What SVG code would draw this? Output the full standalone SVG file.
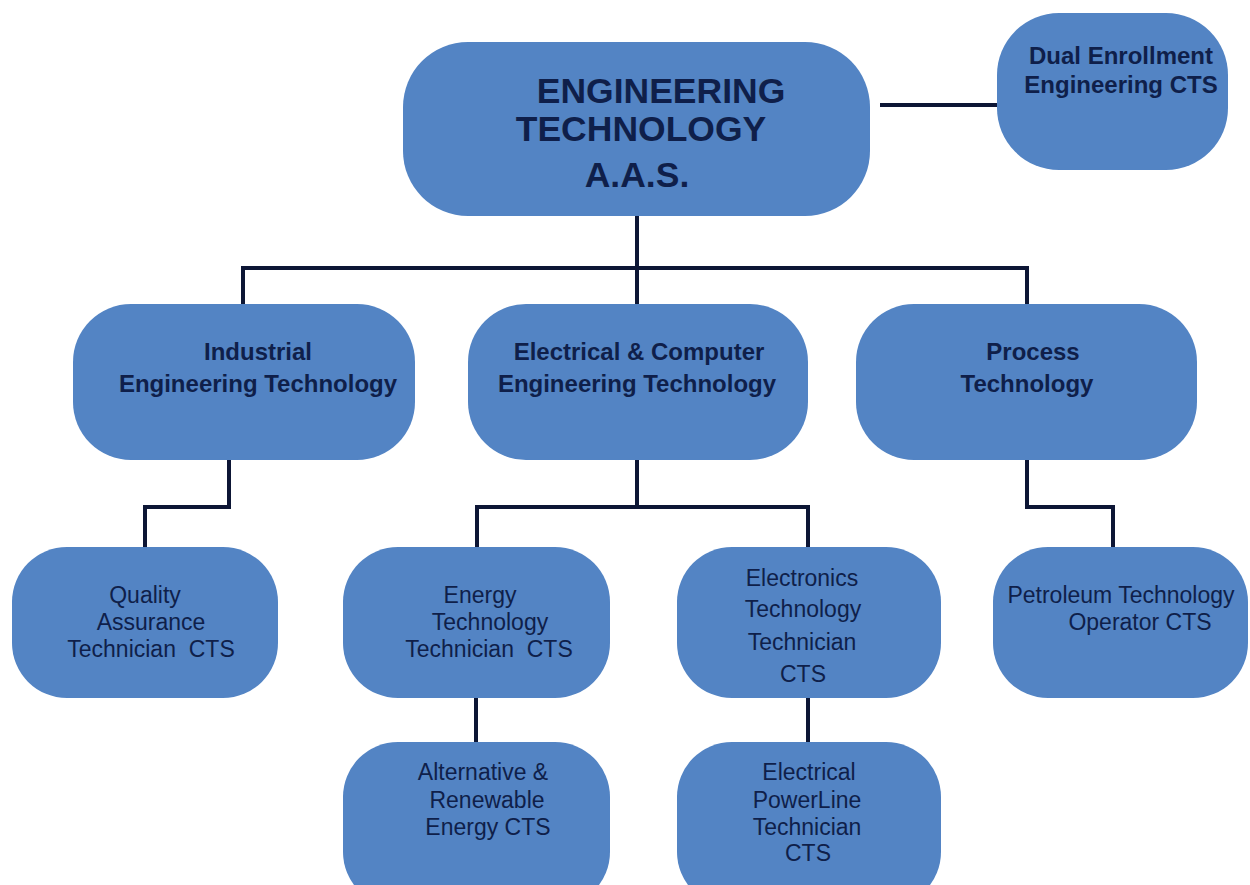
<svg xmlns="http://www.w3.org/2000/svg" width="1250" height="885" viewBox="0 0 1250 885">
<style>
.box{fill:#5384c4;}
.t{font-family:"Liberation Sans",Arial,sans-serif;fill:#0f1f4a;text-anchor:middle;}
.b{font-weight:bold;}
.big{font-size:35.5px;}
.mid{font-size:24px;}
.sm{font-size:23px;}
.c{fill:none;stroke:#0d1635;stroke-width:4;}
</style>
<rect width="1250" height="885" fill="#ffffff"/>
<g id="connectors">
<path class="c" d="M880 105 H997"/>
<path class="c" d="M637 216 V268 M243 268 H1027 M243 266 V304 M637 268 V304 M1027 266 V304"/>
<path class="c" d="M229 460 V507 H145 V547"/>
<path class="c" d="M637 460 V507 M477 507 H808 M477 505 V547 M808 505 V547"/>
<path class="c" d="M1027 460 V507 H1113 V547"/>
<path class="c" d="M476 698 V742"/>
<path class="c" d="M808 698 V742"/>
</g>
<g id="main">
<rect class="box" x="403" y="42" width="467" height="174" rx="65"/>
<text class="t b big" x="661" y="103">ENGINEERING</text>
<text class="t b big" x="641" y="141">TECHNOLOGY</text>
<text class="t b big" x="637" y="187">A.A.S.</text>
</g>
<g id="dual">
<rect class="box" x="997" y="13" width="231" height="157" rx="62"/>
<text class="t b mid" x="1121" y="64">Dual Enrollment</text>
<text class="t b mid" x="1121" y="93">Engineering CTS</text>
</g>
<g id="industrial">
<rect class="box" x="73" y="304" width="342" height="156" rx="58"/>
<text class="t b mid" x="258" y="360">Industrial</text>
<text class="t b mid" x="258" y="392">Engineering Technology</text>
</g>
<g id="electrical">
<rect class="box" x="468" y="304" width="340" height="156" rx="58"/>
<text class="t b mid" x="639" y="360">Electrical &amp; Computer</text>
<text class="t b mid" x="637" y="392">Engineering Technology</text>
</g>
<g id="process">
<rect class="box" x="856" y="304" width="341" height="156" rx="58"/>
<text class="t b mid" x="1033" y="360">Process</text>
<text class="t b mid" x="1027" y="392">Technology</text>
</g>
<g id="quality">
<rect class="box" x="12" y="547" width="266" height="151" rx="55"/>
<text class="t sm" x="145" y="603">Quality</text>
<text class="t sm" x="151" y="630">Assurance</text>
<text class="t sm" x="151" y="657" xml:space="preserve">Technician  CTS</text>
</g>
<g id="energy">
<rect class="box" x="343" y="547" width="267" height="151" rx="55"/>
<text class="t sm" x="480" y="603">Energy</text>
<text class="t sm" x="490" y="630">Technology</text>
<text class="t sm" x="489" y="657" xml:space="preserve">Technician  CTS</text>
</g>
<g id="electronics">
<rect class="box" x="677" y="547" width="264" height="151" rx="55"/>
<text class="t sm" x="802" y="586">Electronics</text>
<text class="t sm" x="803" y="617">Technology</text>
<text class="t sm" x="802" y="650">Technician</text>
<text class="t sm" x="803" y="682">CTS</text>
</g>
<g id="petroleum">
<rect class="box" x="993" y="547" width="255" height="151" rx="55"/>
<text class="t sm" x="1121" y="603">Petroleum Technology</text>
<text class="t sm" x="1140" y="630">Operator CTS</text>
</g>
<g id="alternative">
<rect class="box" x="343" y="742" width="267" height="165" rx="55"/>
<text class="t sm" x="483" y="780">Alternative &amp;</text>
<text class="t sm" x="487" y="808">Renewable</text>
<text class="t sm" x="488" y="835">Energy CTS</text>
</g>
<g id="powerline">
<rect class="box" x="677" y="742" width="264" height="165" rx="55"/>
<text class="t sm" x="809" y="780">Electrical</text>
<text class="t sm" x="807" y="808">PowerLine</text>
<text class="t sm" x="807" y="835">Technician</text>
<text class="t sm" x="808" y="861">CTS</text>
</g>
</svg>
